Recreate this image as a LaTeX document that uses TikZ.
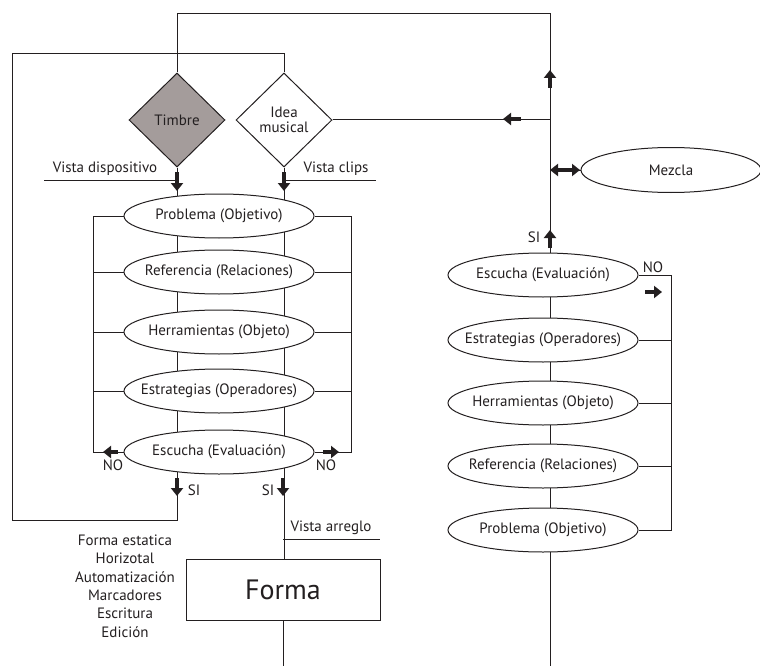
\documentclass[tikz,border=0pt]{standalone}
\usepackage{fontspec}
\setmainfont{PT Sans}
\usetikzlibrary{shapes.geometric,arrows.meta,backgrounds}
\definecolor{timbregray}{RGB}{164,156,155}
\definecolor{ink}{RGB}{35,31,32}
\tikzset{
  line/.style={draw=ink,line width=1pt},
  oval/.style={ellipse,draw=ink,line width=1pt,fill=white,minimum width=190pt,minimum height=44pt,inner xsep=-25pt,inner ysep=0pt,font=\fontsize{15}{17}\selectfont,text=ink},
  dia/.style={diamond,draw=ink,line width=1pt,minimum width=96pt,minimum height=94pt,inner sep=-4pt,font=\fontsize{15}{17}\selectfont,text=ink,align=center},
  lbl/.style={font=\fontsize{15}{17}\selectfont,text=ink,inner sep=0pt},
  bigarrow/.style={draw=ink,line width=4.5pt,-{Triangle[width=12pt,length=8pt]}},
  bigdarrow/.style={draw=ink,line width=4.5pt,{Triangle[width=12pt,length=8pt]}-{Triangle[width=12pt,length=8pt]}},
}
\begin{document}
\begin{tikzpicture}[x=1pt,y=-1pt]
\useasboundingbox (0,0) rectangle (760,666);
% diamonds
\node[dia,fill=timbregray] (timbre) at (177,120) {Timbre};
\node[dia,fill=white] (idea) at (284,120) {Idea\\[-2pt]musical};
% left column
\node[oval] (l1) at (219,216) {Problema (Objetivo)};
\node[oval] (l2) at (219,272) {Referencia (Relaciones)};
\node[oval] (l3) at (219,332) {Herramientas (Objeto)};
\node[oval] (l4) at (219,391) {Estrategias (Operadores)};
\node[oval] (l5) at (219,452) {Escucha (Evaluación)};
% right column
\node[oval] (r1) at (543,275) {Escucha (Evaluación)};
\node[oval] (r2) at (543,340) {Estrategias (Operadores)};
\node[oval] (r3) at (543,403) {Herramientas (Objeto)};
\node[oval] (r4) at (543,466) {Referencia (Relaciones)};
\node[oval] (r5) at (543,530) {Problema (Objetivo)};
\node[oval,minimum width=180pt,minimum height=45pt] (mezcla) at (671,170) {Mezcla};
% forma
\node[draw=ink,line width=1pt,fill=white,minimum width=194pt,minimum height=61pt,inner sep=0pt,font=\fontsize{28}{32}\selectfont,text=ink] (forma) at (283,590) {Forma};
% coordinates
\coordinate (top1) at (177,14);
\coordinate (top2) at (550,14);
\coordinate (loopA) at (177,520);
\coordinate (loopB) at (12,520);
\coordinate (loopC) at (12,54);
\coordinate (loopD) at (284,54);
\coordinate (rbot) at (550,666);
\coordinate (fbot) at (283,666);
\coordinate (ideaR) at (550,120);
\coordinate (mezL) at (550,170);
\coordinate (vd1) at (44,180);
\coordinate (vd2) at (177,180);
\coordinate (vc1) at (284,180);
\coordinate (vc2) at (376,180);
\coordinate (va1) at (283,539);
\coordinate (va2) at (380,539);
\begin{pgfonlayer}{background}
\draw[line] (timbre.north) -- (top1) -- (top2) -- (rbot);
\draw[line] (timbre.south) -- (loopA) -- (loopB) -- (loopC) -- (loopD) -- (idea.north);
\draw[line] (idea.south) -- (idea.south |- forma.north);
\draw[line] (forma.south) -- (fbot);
\draw[line] (idea.east) -- (ideaR);
% brackets left
\draw[line] (l1.west) -- (93,216) -- (93,452) -- (l5.west);
\draw[line] (l2.west) -- (93,272);
\draw[line] (l3.west) -- (93,332);
\draw[line] (l4.west) -- (93,391);
\draw[line] (l1.east) -- (351,216) -- (351,452) -- (l5.east);
\draw[line] (l2.east) -- (351,272);
\draw[line] (l3.east) -- (351,332);
\draw[line] (l4.east) -- (351,391);
% brackets right
\draw[line] (r1.east) -- (671,275) -- (671,530) -- (r5.east);
\draw[line] (r2.east) -- (671,340);
\draw[line] (r3.east) -- (671,403);
\draw[line] (r4.east) -- (671,466);
\end{pgfonlayer}
% vista lines
\draw[line] (vd1) -- (vd2);
\draw[line] (vc1) -- (vc2);
\draw[line] (va1) -- (va2);
\draw[line] (mezL) -- (mezcla.west);
% arrows
\draw[bigarrow] (177,172) -- (177,191);
\draw[bigarrow] (284,172) -- (284,191);
\draw[bigarrow] (118,452) -- (103,452);
\draw[bigarrow] (323,452) -- (339,452);
\draw[bigarrow] (177,478) -- (177,496);
\draw[bigarrow] (283,478) -- (283,496);
\draw[bigarrow] (550,88) -- (550,70);
\draw[bigarrow] (521,119) -- (503,119);
\draw[bigdarrow] (550,170) -- (580,170);
\draw[bigarrow] (550,248) -- (550,230);
\draw[bigarrow] (645,292) -- (662,292);
% labels
\node[lbl] (tvd) at (105,169) {Vista dispositivo};
\node[lbl] (tvc) at (336,169) {Vista clips};
\node[lbl] (tno1) at (113,465) {NO};
\node[lbl] (tno2) at (326,465) {NO};
\node[lbl] (tsi1) at (194,490) {SI};
\node[lbl] (tsi2) at (268,490) {SI};
\node[lbl] (tva) at (331,528) {Vista arreglo};
\node[lbl] (tsi3) at (534,237) {SI};
\node[lbl] (tno3) at (653,267) {NO};
\node[lbl,align=center,font=\fontsize{15}{18.4}\selectfont] (tlist) at (125,586) {Forma estatica\\Horizotal\\Automatización\\Marcadores\\Escritura\\Edición};
\end{tikzpicture}
\end{document}
